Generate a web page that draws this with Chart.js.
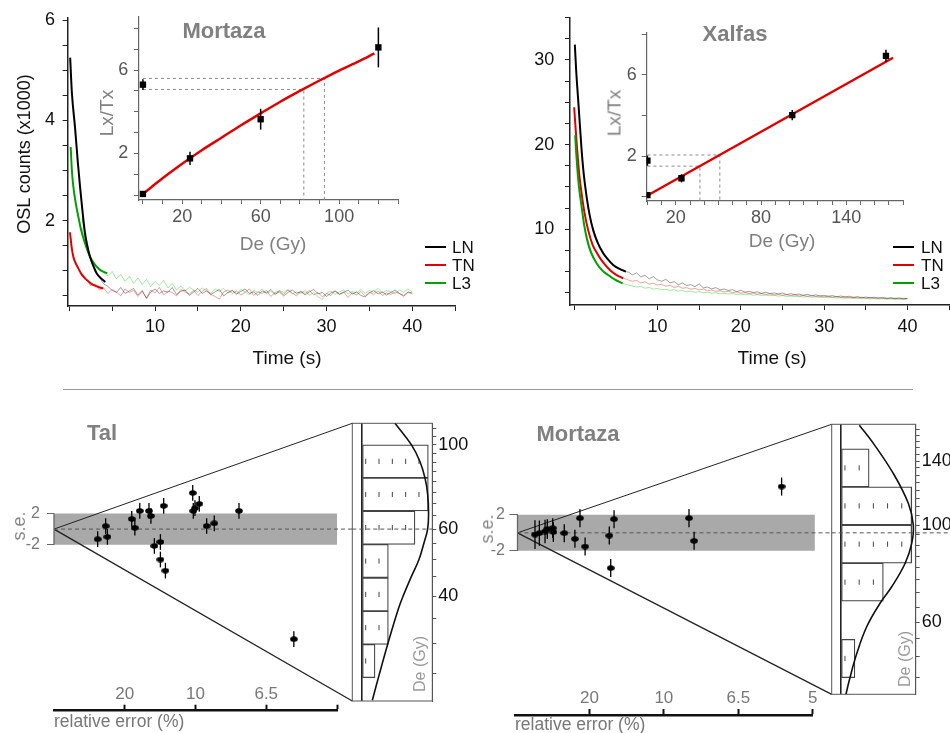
<!DOCTYPE html>
<html><head><meta charset="utf-8"><title>OSL decay, dose response and radial plots</title>
<script src="https://cdn.jsdelivr.net/npm/chart.js@4.4.1/dist/chart.umd.min.js"></script>
<style>
html,body{margin:0;padding:0;background:#fff;}
#wrap{position:relative;width:950px;height:733px;overflow:hidden;background:#fff;font-family:'Liberation Sans',Arial,Helvetica,sans-serif;}
#wrap canvas{position:absolute;}
.t{position:absolute;white-space:nowrap;line-height:1;}
.c{transform:translate(-50%,-50%);}
.r{transform:translate(-50%,-50%) rotate(-90deg);}
.l{transform:translate(0,-50%);}
.ttl{font-weight:bold;font-size:22px;color:#808080;}
.lg{position:absolute;height:2px;width:21px;}
</style></head><body>
<div id="wrap">
<canvas id="cA" width="470" height="380" style="left:0;top:0"></canvas>
<canvas id="cC" width="480" height="380" style="left:470px;top:0"></canvas>
<canvas id="cB" width="325" height="245" style="left:90px;top:0"></canvas>
<canvas id="cD" width="325" height="235" style="left:595px;top:10px"></canvas>
<canvas id="cE" width="360" height="300" style="left:0;top:410px"></canvas>
<canvas id="cF" width="125" height="300" style="left:345px;top:410px"></canvas>
<canvas id="cG" width="370" height="300" style="left:470px;top:410px"></canvas>
<canvas id="cH" width="125" height="300" style="left:825px;top:410px"></canvas>
<canvas id="cI" width="310" height="40" style="left:40px;top:680px"></canvas>
<canvas id="cJ" width="330" height="45" style="left:500px;top:680px"></canvas>

<div class="t r" style="left:24px;top:154px;font-size:18px;color:#111">OSL counts (x1000)</div>
<div class="t c" style="left:287px;top:357px;font-size:19px;color:#111">Time (s)</div>
<div class="t c" style="left:772px;top:357px;font-size:19px;color:#111">Time (s)</div>
<div class="t c ttl" style="left:224px;top:31px">Mortaza</div>
<div class="t c ttl" style="left:735px;top:34px">Xalfas</div>
<div class="t r" style="left:106px;top:113px;font-size:19px;color:#808080">Lx/Tx</div>
<div class="t r" style="left:614px;top:113px;font-size:19px;color:#808080">Lx/Tx</div>
<div class="t c" style="left:273px;top:243px;font-size:19px;color:#808080">De (Gy)</div>
<div class="t c" style="left:782px;top:240px;font-size:19px;color:#808080">De (Gy)</div>

<div class="lg" style="left:425px;top:246px;background:#000"></div>
<div class="lg" style="left:425px;top:264px;background:#e00000"></div>
<div class="lg" style="left:425px;top:282px;background:#00a000"></div>
<div class="t l" style="left:452px;top:247px;font-size:17px;color:#111">LN</div>
<div class="t l" style="left:452px;top:265px;font-size:17px;color:#111">TN</div>
<div class="t l" style="left:452px;top:283px;font-size:17px;color:#111">L3</div>
<div class="lg" style="left:893px;top:246px;background:#000"></div>
<div class="lg" style="left:893px;top:264px;background:#e00000"></div>
<div class="lg" style="left:893px;top:282px;background:#00a000"></div>
<div class="t l" style="left:921px;top:247px;font-size:17px;color:#111">LN</div>
<div class="t l" style="left:921px;top:265px;font-size:17px;color:#111">TN</div>
<div class="t l" style="left:921px;top:283px;font-size:17px;color:#111">L3</div>

<div style="position:absolute;left:63px;top:389px;width:850px;height:1px;background:#999"></div>

<div class="t c ttl" style="left:102px;top:433px">Tal</div>
<div class="t c ttl" style="left:578px;top:434px">Mortaza</div>
<div class="t r" style="left:19px;top:526px;font-size:18px;color:#888">s.e.</div>
<div class="t r" style="left:487px;top:529px;font-size:18px;color:#888">s.e.</div>
<div class="t l" style="left:54px;top:722px;font-size:17.5px;color:#777">relative error (%)</div>
<div class="t l" style="left:515px;top:725px;font-size:17.5px;color:#777">relative error (%)</div>
<div class="t r" style="left:420px;top:664px;font-size:16px;color:#999">De (Gy)</div>
<div class="t r" style="left:905px;top:659px;font-size:16px;color:#999">De (Gy)</div>
</div>
<script>
// ---------------- DATA ----------------
// OSL decay curves: fitted (smooth) parts
const mortazaLNfitT = [0.1,0.3,0.66,1.0,1.25,1.5,1.83,2.1,2.41,2.8,3.2,3.7,4.2];
const mortazaLNfit  = [5.25,4.55,3.87,3.15,2.68,2.25,1.75,1.5,1.28,1.1,0.95,0.85,0.78];
const mortazaTNfitT = [0.08,0.25,0.47,0.75,1.05,1.4,1.83,2.3,2.8,3.4,3.96];
const mortazaTNfit  = [1.77,1.5,1.28,1.15,1.05,0.94,0.85,0.78,0.72,0.68,0.65];
const mortazaL3fitT = [0.16,0.3,0.47,0.75,1.05,1.4,1.83,2.2,2.6,3.1,3.58,4.43];
const mortazaL3fit  = [3.47,3.0,2.68,2.35,2.08,1.8,1.55,1.37,1.22,1.1,1.02,0.95];

const xalfasLNfitT = [0.08,0.25,0.48,0.7,0.89,1.15,1.49,1.85,2.28,2.8,3.48,4.0,4.68,5.4,6.2];
const xalfasLNfit  = [31.8,28.6,25.3,22.1,19.4,16.5,13.85,11.7,9.9,8.45,7.17,6.5,5.79,5.35,5.0];
const xalfasTNfitT = [0.0,0.18,0.36,0.6,0.89,1.25,1.68,2.2,2.88,3.5,4.29,5.0,5.88];
const xalfasTNfit  = [24.4,21.8,19.4,16.6,14.25,11.9,9.9,8.2,6.97,6.05,5.19,4.65,4.21];
const xalfasL3fitT = [0.12,0.24,0.36,0.6,0.89,1.2,1.56,2.0,2.69,3.3,4.08,4.9,5.81];
const xalfasL3fit  = [21.1,19.1,17.4,14.8,12.7,10.5,8.74,7.3,5.99,5.2,4.6,4.05,3.62];

// OSL decay curves: raw (noisy) signal
const rawTime = [1.5,2,2.5,3,3.5,4,4.5,5,5.5,6,6.5,7,7.5,8,8.5,9,9.5,10,10.5,11,11.5,12,12.5,13,13.5,14,14.5,15,15.5,16,16.5,17,17.5,18,18.5,19,19.5,20,20.5,21,21.5,22,22.5,23,23.5,24,24.5,25,25.5,26,26.5,27,27.5,28,28.5,29,29.5,30,30.5,31,31.5,32,32.5,33,33.5,34,34.5,35,35.5,36,36.5,37,37.5,38,38.5,39,39.5,40];
const mortazaLNraw = [2.05,1.55,1.22,0.98,0.88,0.74,0.69,0.61,0.57,0.67,0.55,0.60,0.65,0.52,0.61,0.45,0.58,0.64,0.55,0.60,0.57,0.67,0.53,0.59,0.62,0.51,0.58,0.65,0.55,0.60,0.53,0.58,0.63,0.50,0.57,0.61,0.54,0.59,0.64,0.55,0.58,0.51,0.60,0.56,0.63,0.54,0.58,0.50,0.57,0.62,0.55,0.59,0.52,0.58,0.63,0.54,0.57,0.49,0.56,0.60,0.53,0.57,0.62,0.54,0.58,0.51,0.48,0.56,0.61,0.54,0.58,0.52,0.57,0.62,0.55,0.51,0.58,0.56];
const mortazaTNraw = [0.95,0.82,0.70,0.74,0.62,0.66,0.55,0.63,0.58,0.50,0.64,0.57,0.61,0.49,0.59,0.46,0.62,0.56,0.67,0.52,0.60,0.57,0.50,0.63,0.58,0.54,0.61,0.51,0.59,0.65,0.53,0.49,0.44,0.58,0.62,0.55,0.60,0.52,0.57,0.64,0.51,0.58,0.55,0.61,0.49,0.57,0.60,0.53,0.62,0.56,0.50,0.59,0.55,0.61,0.52,0.57,0.48,0.55,0.51,0.60,0.54,0.58,0.47,0.56,0.52,0.59,0.50,0.57,0.53,0.60,0.51,0.56,0.53,0.58,0.55,0.49,0.57,0.54];
const mortazaL3raw = [1.85,1.50,1.28,1.12,1.05,0.96,0.90,0.99,0.84,0.93,0.79,0.89,0.75,0.86,0.73,0.83,0.69,0.79,0.71,0.81,0.66,0.75,0.62,0.70,0.60,0.67,0.62,0.57,0.66,0.60,0.55,0.64,0.59,0.65,0.56,0.61,0.54,0.63,0.58,0.53,0.61,0.57,0.64,0.55,0.59,0.52,0.61,0.57,0.63,0.54,0.58,0.55,0.61,0.51,0.57,0.49,0.43,0.55,0.60,0.53,0.58,0.62,0.54,0.59,0.56,0.63,0.55,0.61,0.57,0.65,0.56,0.61,0.58,0.54,0.62,0.57,0.64,0.58];
const xalfasLNraw = [13.6,11.0,9.4,8.1,7.3,6.6,6.0,5.6,5.3,5.0,4.95,4.62,4.85,4.38,4.56,4.15,4.41,4.02,3.86,4.08,3.68,3.82,3.45,3.66,3.36,3.47,3.22,3.55,3.08,3.19,2.96,3.11,2.84,2.95,2.77,2.87,2.63,2.80,2.58,2.67,2.53,2.61,2.42,2.57,2.40,2.49,2.36,2.47,2.29,2.40,2.27,2.35,2.20,2.33,2.15,2.26,2.13,2.20,2.09,2.17,2.03,2.12,2.00,2.10,1.94,2.05,1.92,2.00,1.90,1.98,1.86,1.97,1.82,1.93,1.81,1.90,1.79,1.86];
const xalfasTNraw = [10.6,8.8,7.5,6.6,6.0,5.5,5.0,4.7,4.4,4.2,4.02,3.86,3.97,3.66,3.81,3.52,3.63,3.41,3.50,3.27,3.39,3.12,3.27,3.03,3.11,2.93,3.03,2.83,2.94,2.75,2.82,2.67,2.75,2.58,2.69,2.51,2.62,2.46,2.52,2.41,2.47,2.34,2.43,2.30,2.37,2.25,2.31,2.21,2.28,2.16,2.26,2.11,2.21,2.08,2.16,2.06,2.11,2.02,2.09,1.97,2.07,1.95,2.01,1.93,1.99,1.89,1.98,1.86,1.95,1.84,1.92,1.83,1.89,1.81,1.88,1.79,1.86,1.82];
const xalfasL3raw = [9.3,7.6,6.4,5.6,5.0,4.6,4.25,4.0,3.75,3.55,3.42,3.30,3.18,3.26,3.04,3.13,2.94,3.01,2.86,2.92,2.77,2.86,2.69,2.78,2.62,2.71,2.55,2.64,2.50,2.57,2.45,2.51,2.38,2.47,2.34,2.40,2.31,2.36,2.26,2.33,2.21,2.29,2.18,2.23,2.15,2.20,2.10,2.18,2.07,2.12,2.05,2.09,2.00,2.07,1.97,2.02,1.95,1.99,1.91,1.97,1.88,1.93,1.86,1.90,1.83,1.89,1.80,1.85,1.79,1.82,1.76,1.81,1.74,1.78,1.72,1.77,1.70,1.74];

// Dose response (insets)
const mortazaDose = [0, 24, 60, 120];
const mortazaLxTx = [0.05, 1.76, 3.64, 7.09];
const mortazaLxTxErr = [0.08, 0.32, 0.5, 0.96];
const mortazaNatural = [5.3];
const mortazaNaturalErr = [0.26];
const mortazaCurveDose = [0,10,20,30,40,50,60,70,80,90,100,110,118];
const mortazaCurveLxTx = [0.05,0.8,1.5,2.15,2.75,3.35,3.92,4.48,5.0,5.5,5.98,6.42,6.8];
const mortazaDeBounds = [82, 92.5];
const mortazaLnBounds = [5.07, 5.6];

const xalfasDose = [0, 24, 102, 168];
const xalfasLxTx = [0.07, 0.9, 4.02, 6.94];
const xalfasLxTxErr = [0.07, 0.2, 0.25, 0.3];
const xalfasNatural = [1.77];
const xalfasNaturalErr = [0.25];
const xalfasLineDose = [0, 173];
const xalfasLineLxTx = [0.05, 6.85];
const xalfasDeBounds = [37, 51];
const xalfasLnBounds = [1.5, 2.05];

// Radial plots: individual aliquots (relative error %, De in Gy)
const talRelErr = [32.4,27.4,26.5,18.2,17.5,16.5,14.9,14.6,14.1,12.9,13.3,13.3,12.7,10.2,10.16,10.04,9.74,9.27,8.83,7.65,5.9];
const talDe     = [39.5,66.5,46.1,75.9,61.8,87.9,84.8,76.6,44.3,87.9,48.2,35.8,30.6,96.0,75.9,78.4,82.1,62.2,64.0,71.7,26.2];
const talSe     = [1,1,1,1,1,1,1,1,1,1,1,1,1,1,1,1,1,1,1,1,1];
const talCentral = 60;
const talDeRange = [21.2, 113.8];
const talArcPrecision = 21.08;
const talBandPrecision = 20;
const talBinEdges = [24.4,29.9,36.5,44.7,54.7,67,81.7,100];
const talBinCounts = [1,2,2,2,4,5,5];
const talCurveDe    = [21.3,24.9,30.3,37.0,40.1,45.2,49.9,55.1,60,65.8,74.1,81.8,90.3,99.7,113.8];
const talCurveCount = [0.8,1.32,2.0,2.75,3.12,3.75,4.3,4.67,4.95,5.02,4.95,4.75,4.37,3.75,2.5];

const mortRelErr = [85,68,54,49.9,42.2,41.5,31.8,25.9,23.8,22.0,16.2,15.95,15.4,8.67,8.42,5.63];
const mortDe     = [81.5,93.8,103.8,117.8,119.7,99.5,95,80.8,141.6,68.7,91.4,51.4,121.3,110.6,89.1,128.2];
const mortSe     = [1.6,1.4,1.3,1.1,1.1,1.1,1.0,1.0,1.0,1.0,1.0,1.0,1.0,1.0,1.0,1.0];
const mortCentral = 96;
const mortDeRange = [41.1, 169.8];
const mortArcPrecision = 21.13;
const mortBandPrecision = 20;
const mortBinEdges = [44.9,54.8,67.1,81.8,100,122.3,149.1];
const mortBinCounts = [1,0,3,5,5,2];
const mortCurveDe    = [41.1,44.3,50.9,58.6,66.3,72.3,81.7,90.8,100,112.1,131.2,153.6,169];
const mortCurveCount = [0.37,0.61,1.13,1.83,2.77,3.59,4.53,5.0,5.11,4.76,3.7,2.3,1.31];

// Tick values / labels
const timeTicks = [0,5,10,15,20,25,30,35,40,45];
const timeLabels = [10,20,30,40];
const mortazaCountTicks = [0.5,1,1.5,2,2.5,3,3.5,4,4.5,5,5.5,6];
const mortazaCountLabels = [2,4,6];
const xalfasCountTicks = [2.5,5,7.5,10,12.5,15,17.5,20,22.5,25,27.5,30,32.5,35];
const xalfasCountLabels = [10,20,30];
const mortazaDoseTicks = [0,10,20,30,40,50,60,70,80,90,100,110,120,130];
const mortazaDoseLabels = [20,60,100];
const mortazaLxTxTicks = [0,1,2,3,4,5,6,7,8];
const xalfasDoseTicks = [0,10,20,30,40,50,60,70,80,90,100,110,120,130,140,150,160,170,180];
const xalfasDoseLabels = [20,80,140];
const xalfasLxTxTicks = [0,2,4,6,8];
const lxTxLabels = [2,6];
const seTicks = [-2, 2];
const relErrTicks = [5,10,15,20];
const talRelErrLabels = ['20','10','6.5',''];
const mortRelErrLabels = ['20','10','6.5','5'];
const talDeTicks = [25,30,35,40,45,50,55,60,65,70,75,80,85,90,95,100,105,110];
const talDeLabels = [40,60,100];
const mortDeTicks = [45,50,55,60,65,70,75,80,85,90,95,100,105,110,115,120,125,130,135,140,145,150,155,160,165];
const mortDeLabels = [60,100,140];

// ---------------- HELPERS ----------------
const FONT = "'Liberation Sans', Arial, Helvetica, sans-serif";
const pts = (xs, ys) => xs.map((x, i) => ({x: x, y: ys[i]}));
function zeroPad(s){ s.paddingTop = s.paddingBottom = s.paddingLeft = s.paddingRight = 0; }
function mkAxis(o){
  const horiz = (o.position === 'bottom' || o.position === 'top');
  return {
    type: o.type || 'linear', position: o.position, display: true, min: o.min, max: o.max, offset: false,
    afterBuildTicks: s => { s.ticks = o.ticks.map(v => ({value: v})); },
    afterFit: s => { if (horiz) s.height = o.size; else s.width = o.size; zeroPad(s); },
    grid: {display: true, drawOnChartArea: false, drawTicks: true, tickLength: o.tickLen, tickColor: o.color, tickWidth: o.tickWidth || 1, offset: false},
    border: {display: o.border !== false, color: o.color, width: o.borderWidth || 1.5},
    ticks: {display: true, autoSkip: false, maxRotation: 0, minRotation: 0, padding: o.pad,
      color: o.labelColor || o.color, font: {family: FONT, size: o.fontSize || 18},
      callback: o.callback || (v => o.labels.includes(v) ? String(v) : '')}
  };
}
function baseOpts(padding, scales, extra){
  return Object.assign({
    responsive: false, animation: false, events: [],
    layout: {padding: padding},
    plugins: {legend: {display: false}, tooltip: {enabled: false}},
    scales: scales
  }, extra || {});
}
const errorBarPlugin = {
  id: 'errorBars',
  afterDatasetsDraw(chart){
    const ctx = chart.ctx;
    chart.data.datasets.forEach((ds, di) => {
      if (!ds.errorBars) return;
      const meta = chart.getDatasetMeta(di);
      const ys = chart.scales[meta.yAxisID];
      ctx.save();
      ctx.strokeStyle = ds.errorBarColor || '#000';
      ctx.lineWidth = ds.errorBarWidth || 1.3;
      meta.data.forEach((el, i) => {
        const v = ds.data[i].y, e = ds.errorBars[i];
        ctx.beginPath();
        ctx.moveTo(el.x, ys.getPixelForValue(v + e));
        ctx.lineTo(el.x, ys.getPixelForValue(v - e));
        ctx.stroke();
      });
      ctx.restore();
    });
  }
};
Chart.register(errorBarPlugin);
const framePlugin = {
  id: 'frame',
  beforeDatasetsDraw(chart){
    const {ctx, chartArea: a} = chart;
    ctx.save(); ctx.strokeStyle = '#555'; ctx.lineWidth = 1;
    ctx.strokeRect(a.left, a.top, a.right - a.left, a.bottom - a.top);
    ctx.restore();
  }
};
function ellipseDot(w, h){
  const c = document.createElement('canvas'); c.width = w; c.height = h;
  const x = c.getContext('2d'); x.fillStyle = '#000';
  x.beginPath(); x.ellipse(w/2, h/2, w/2 - 0.2, h/2 - 0.2, 0, 0, Math.PI*2); x.fill();
  return c;
}
const dot = ellipseDot(8, 6);
const C_LN = '#000000', C_TN = '#e00000', C_L3 = '#00a000';
function fitDs(t, v, color){ return {type:'line', data: pts(t, v), borderColor: color, borderWidth: 2, pointRadius: 0, cubicInterpolationMode: 'monotone', fill: false}; }
function rawDs(v, color){ return {type:'line', data: pts(rawTime, v), borderColor: color, borderWidth: 1, pointRadius: 0, tension: 0, fill: false}; }

// ---------------- DECAY CHARTS ----------------
function decayChart(id, fits, raws, xr, yr, yTicks, yLabels, pad, ySize, xSize, yPad, xPad){
  return new Chart(document.getElementById(id), {
    type: 'scatter',
    data: {datasets: [
      fitDs(fits[0][0], fits[0][1], C_LN), fitDs(fits[2][0], fits[2][1], C_L3), fitDs(fits[1][0], fits[1][1], C_TN),
      rawDs(raws[0], 'rgba(0,0,0,0.38)'), rawDs(raws[1], 'rgba(225,30,30,0.42)'), rawDs(raws[2], 'rgba(30,200,30,0.42)')
    ]},
    options: baseOpts(pad, {
      x: mkAxis({position:'bottom', min: xr[0], max: xr[1], ticks: timeTicks, labels: timeLabels, size: xSize, tickLen: 5, pad: xPad, color: '#222', labelColor: '#111'}),
      y: mkAxis({position:'left', min: yr[0], max: yr[1], ticks: yTicks, labels: yLabels, size: ySize, tickLen: 5, pad: yPad, color: '#222', labelColor: '#111'})
    })
  });
}
decayChart('cA',
  [[mortazaLNfitT, mortazaLNfit], [mortazaTNfitT, mortazaTNfit], [mortazaL3fitT, mortazaL3fit]],
  [mortazaLNraw, mortazaTNraw, mortazaL3raw],
  [-0.2, 45], [0.3, 6.05], mortazaCountTicks, mortazaCountLabels,
  {left: 0, top: 17.5, right: 14.8, bottom: 0}, 67.6, 74, 7.6, 5.7);
decayChart('cC',
  [[xalfasLNfitT, xalfasLNfit], [xalfasTNfitT, xalfasTNfit], [xalfasL3fitT, xalfasL3fit]],
  [xalfasLNraw, xalfasTNraw, xalfasL3raw],
  [-0.5, 45.1], [1.06, 35], xalfasCountTicks, xalfasCountLabels,
  {left: 0, top: 17.5, right: 0, bottom: 0}, 100, 75, 10.7, 5.9);

// ---------------- DOSE RESPONSE INSETS ----------------
function insetChart(id, d){
  const dashed = (de, ln) => ({type:'line', data: [{x: 0, y: ln}, {x: de, y: ln}, {x: de, y: d.yr[0]}],
    borderColor: '#8a8a8a', borderWidth: 1, borderDash: [3, 3], pointRadius: 0, fill: false});
  return new Chart(document.getElementById(id), {
    type: 'scatter',
    data: {datasets: [
      {data: pts(d.dose, d.lxtx), pointStyle: 'rect', pointRadius: 4.5, backgroundColor: '#000', borderColor: '#000', borderWidth: 0, errorBars: d.err, errorBarWidth: 1.5},
      {data: pts([0], d.nat), pointStyle: 'rect', pointRadius: 4.5, backgroundColor: '#000', borderColor: '#000', borderWidth: 0, errorBars: d.natErr, errorBarWidth: 1.5},
      {type:'line', data: pts(d.curveX, d.curveY), borderColor: '#e00000', borderWidth: 2.5, pointRadius: 0, cubicInterpolationMode: 'monotone', fill: false},
      dashed(d.deB[0], d.lnB[0]), dashed(d.deB[1], d.lnB[1])
    ]},
    options: baseOpts(d.pad, {
      x: mkAxis({position:'bottom', min: d.xr[0], max: d.xr[1], ticks: d.xTicks, labels: d.xLabels, size: d.xSize, tickLen: 4, pad: d.xPad, color: '#666', labelColor: '#555', borderWidth: 1.2}),
      y: mkAxis({position:'left', min: d.yr[0], max: d.yr[1], ticks: d.yTicks, labels: lxTxLabels, size: d.ySize, tickLen: 5, pad: d.yPad, color: '#666', labelColor: '#555', borderWidth: 1.2})
    })
  });
}
insetChart('cB', {dose: mortazaDose, lxtx: mortazaLxTx, err: mortazaLxTxErr, nat: mortazaNatural, natErr: mortazaNaturalErr,
  curveX: mortazaCurveDose, curveY: mortazaCurveLxTx, deB: mortazaDeBounds, lnB: mortazaLnBounds,
  xr: [-2, 130], yr: [-0.24, 8.55], xTicks: mortazaDoseTicks, xLabels: mortazaDoseLabels, yTicks: mortazaLxTxTicks,
  pad: {left: 0, top: 17, right: 17, bottom: 0}, ySize: 49, xSize: 45, xPad: 2.7, yPad: 5.7});
insetChart('cD', {dose: xalfasDose, lxtx: xalfasLxTx, err: xalfasLxTxErr, nat: xalfasNatural, natErr: xalfasNaturalErr,
  curveX: xalfasLineDose, curveY: xalfasLineLxTx, deB: xalfasDeBounds, lnB: xalfasLnBounds,
  xr: [-0.5, 180], yr: [-0.22, 8.07], xTicks: xalfasDoseTicks, xLabels: xalfasDoseLabels, yTicks: xalfasLxTxTicks,
  pad: {left: 0, top: 23, right: 17, bottom: 0}, ySize: 51.7, xSize: 44, xPad: 2.5, yPad: 5});

// ---------------- RADIAL PLOTS ----------------
function radialChart(id, r){
  const points = r.relErr.map((e, i) => { const p = 100 / e; return {x: p, y: p * Math.log(r.de[i] / r.central)}; });
  const yTop = r.arc * Math.log(r.range[1] / r.central);
  const yBot = r.arc * Math.log(r.range[0] / r.central);
  return new Chart(document.getElementById(id), {
    type: 'scatter',
    data: {datasets: [
      {data: points, pointStyle: dot, pointRadius: 4, errorBars: r.se, errorBarWidth: 1.3},
      {type:'line', data: [{x: 0, y: -2}, {x: 0, y: 2}], borderColor: '#666', borderWidth: 1.3, pointRadius: 0, clip: false, fill: false},
      {type:'line', data: [{x: 0, y: 0}, {x: r.arc, y: 0}], borderColor: '#555', borderWidth: 1, borderDash: [4, 3], pointRadius: 0, fill: false},
      {type:'line', data: [{x: 0, y: 0}, {x: r.arc, y: yTop}], borderColor: '#222', borderWidth: 1, pointRadius: 0, clip: false, fill: false},
      {type:'line', data: [{x: 0, y: 0}, {x: r.arc, y: yBot}], borderColor: '#222', borderWidth: 1.3, pointRadius: 0, clip: false, fill: false},
      {type:'line', data: [{x: 0, y: 2}, {x: r.band, y: 2}], borderWidth: 0, borderColor: 'rgba(0,0,0,0)', backgroundColor: '#a9a9a9', pointRadius: 0, fill: {value: -2}}
    ]},
    options: baseOpts(r.pad, {
      x: {type: 'linear', display: false, min: 0, max: r.arc},
      y: mkAxis({position: 'left', min: yBot, max: yTop, ticks: seTicks, callback: v => String(v), size: r.ySize, tickLen: r.tickLen, pad: r.yPad, color: '#666', labelColor: '#777', fontSize: 16, border: false})
    })
  });
}
radialChart('cE', {relErr: talRelErr, de: talDe, se: talSe, central: talCentral, range: talDeRange, arc: talArcPrecision, band: talBandPrecision,
  pad: {left: 0, top: 13.3, right: 7.7, bottom: 9}, ySize: 54, tickLen: 7, yPad: 7});
radialChart('cG', {relErr: mortRelErr, de: mortDe, se: mortSe, central: mortCentral, range: mortDeRange, arc: mortArcPrecision, band: mortBandPrecision,
  pad: {left: 0, top: 14.3, right: 8.3, bottom: 15.7}, ySize: 47.5, tickLen: 8, yPad: 4.5});

// ---------------- HISTOGRAMS ----------------
function histChart(id, h){
  const centers = h.edges.slice(0, -1).map((e, i) => Math.sqrt(e * h.edges[i + 1]));
  const bars = centers.map((c, i) => ({x: h.counts[i], y: c}));
  const rug = [];
  centers.forEach((c, i) => { for (let k = 0; k < h.counts[i]; k++) rug.push({x: k + 0.3, y: c}); });
  return new Chart(document.getElementById(id), {
    type: 'scatter',
    data: {datasets: [
      {type:'line', data: pts(h.curveCount, h.curveDe), borderColor: '#111', borderWidth: 1.6, pointRadius: 0, tension: 0.4, fill: false},
      {data: rug, pointStyle: 'line', rotation: 90, pointRadius: 2.6, borderColor: '#444', borderWidth: 1},
      {type:'line', data: [{x: h.xr[0], y: h.central}, {x: h.dashEnd, y: h.central}], borderColor: '#555', borderWidth: 1, borderDash: [4, 3], pointRadius: 0, clip: false, fill: false},
      {type:'bar', indexAxis: 'y', data: bars, backgroundColor: 'rgba(0,0,0,0)', borderColor: '#444', borderWidth: 0.6, borderSkipped: false, barThickness: 'flex', barPercentage: 1, categoryPercentage: 1}
    ]},
    options: baseOpts(h.pad, {
      x: {type: 'linear', position: 'bottom', min: h.xr[0], max: h.xr[1], offset: false,
        afterBuildTicks: s => { s.ticks = [{value: 0}]; }, afterFit: s => { s.height = 0; zeroPad(s); },
        grid: {display: true, drawOnChartArea: true, drawTicks: false, color: '#222', lineWidth: 1.6}, border: {display: false}, ticks: {display: false}},
      y: mkAxis({type: 'logarithmic', position: 'right', min: h.range[0], max: h.range[1], ticks: h.ticks, labels: h.labels, size: h.ySize, tickLen: 4, pad: 2, color: '#555', labelColor: '#111', fontSize: 18, borderWidth: 1})
    }),
    plugins: [framePlugin]
  });
}
histChart('cF', {edges: talBinEdges, counts: talBinCounts, curveDe: talCurveDe, curveCount: talCurveCount, central: talCentral,
  range: talDeRange, xr: [-0.705, 5.3], dashEnd: 5.3, ticks: talDeTicks, labels: talDeLabels,
  pad: {left: 7.3, top: 13.3, right: 0, bottom: 9}, ySize: 37.7});
histChart('cH', {edges: mortBinEdges, counts: mortBinCounts, curveDe: mortCurveDe, curveCount: mortCurveCount, central: mortCentral,
  range: mortDeRange, xr: [-0.634, 5.28], dashEnd: 8, ticks: mortDeTicks, labels: mortDeLabels,
  pad: {left: 6.7, top: 14.3, right: 0, bottom: 15.7}, ySize: 34.3});

// ---------------- RELATIVE ERROR AXES ----------------
function relErrAxis(id, labels, pad, size){
  return new Chart(document.getElementById(id), {
    type: 'scatter', data: {datasets: []},
    options: baseOpts(pad, {
      x: mkAxis({position: 'top', min: 0, max: 20, ticks: relErrTicks, callback: (v, i) => labels[i], size: size, tickLen: 6, tickWidth: 2, pad: 0, color: '#111', labelColor: '#777', fontSize: 17, borderWidth: 2.5}),
      y: {display: false, min: 0, max: 1}
    })
  });
}
relErrAxis('cI', talRelErrLabels, {left: 14, right: 13, top: 0, bottom: 0}, 30.7);
relErrAxis('cJ', mortRelErrLabels, {left: 15, right: 17.3, top: 0, bottom: 0}, 35);
</script>
</body></html>
